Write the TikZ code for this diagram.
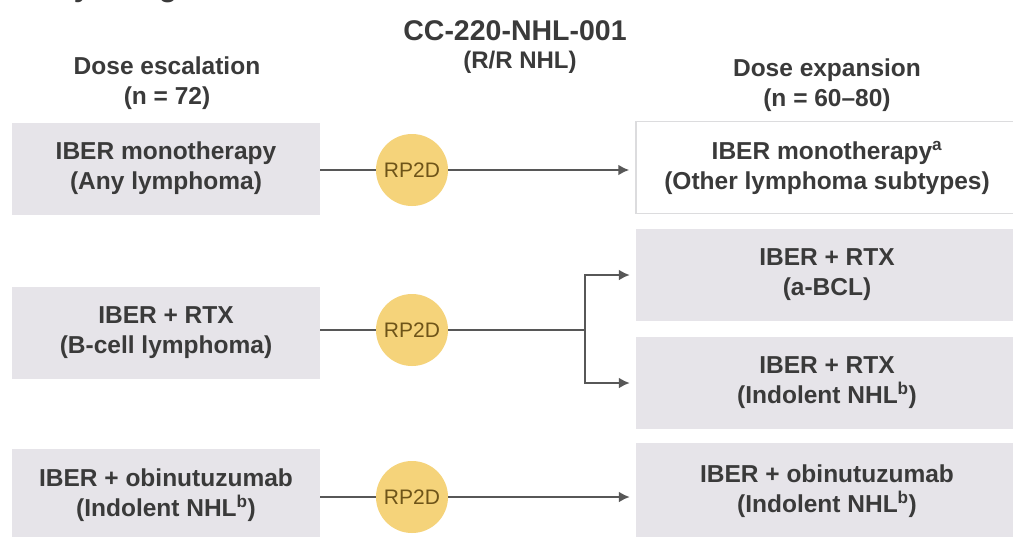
\documentclass[tikz,border=0pt]{standalone}
\usepackage{fontspec}
\setmainfont{Liberation Sans}
\usetikzlibrary{arrows.meta,backgrounds}

\definecolor{boxgray}{HTML}{E6E4E9}
\definecolor{txtgray}{HTML}{3A3A3A}
\definecolor{linegray}{HTML}{575757}
\definecolor{rpfill}{HTML}{F5D37A}
\definecolor{rptext}{HTML}{6E5419}
\definecolor{edgegray}{HTML}{DCDCDE}

\begin{document}
\begin{tikzpicture}[x=1pt,y=-1pt,
  bodyfont/.style={font=\fontsize{24.5}{30}\selectfont\bfseries, text=txtgray},
  armbox/.style={bodyfont, fill=boxgray, inner sep=0pt, align=center,
    minimum width=308pt, minimum height=92pt},
  expbox/.style={bodyfont, fill=boxgray, inner sep=0pt, align=center,
    minimum width=382pt, minimum height=92pt},
  openbox/.style={expbox, fill=white, draw=edgegray, line width=1.5pt},
  header/.style={bodyfont, align=center, inner sep=0pt},
  rpdose/.style={circle, fill=rpfill, minimum size=72pt, inner sep=0pt,
    font=\fontsize{21}{24}\selectfont, text=rptext},
  conn/.style={draw=linegray, line width=2.2pt},
  arr/.style={conn, -{Latex[length=11pt,width=11pt]}, shorten >=6pt}
]
\useasboundingbox (0,0) rectangle (1013,536);

% section heading, running off the top edge
\node[anchor=base west, inner sep=0pt, font=\fontsize{30}{34}\selectfont\bfseries, text=txtgray]
  (heading) at (7,-4) {Study design};

% column headings
\node[header] (hesc) at (167,83) {Dose escalation\\(n = 72)};
\node[inner sep=0pt, font=\fontsize{28.5}{32}\selectfont\bfseries, text=txtgray]
  (title) at (515,31) {CC-220-NHL-001};
\node[header, font=\fontsize{24}{28}\selectfont\bfseries] (subtitle) at (520,62) {(R/R NHL)};
\node[header] (hexp) at (827,85) {Dose expansion\\(n = 60–80)};

% dose escalation arms
\node[armbox] (L1) at (166,168.5) {IBER monotherapy\\(Any lymphoma)};
\node[armbox] (L2) at (166,333) {IBER + RTX\\(B-cell lymphoma)};
\node[armbox] (L3) at (166,495) {IBER + obinutuzumab\\(Indolent NHL\textsuperscript{b})};

% recommended phase 2 dose
\node[rpdose] (C1) at (412,170) {RP2D};
\node[rpdose] (C2) at (412,330) {RP2D};
\node[rpdose] (C3) at (412,497) {RP2D};

% dose expansion arms
\node[openbox] (R1) at (827,167.5) {IBER monotherapy\textsuperscript{a}\\(Other lymphoma subtypes)};
\node[expbox] (R2) at (827,275) {IBER + RTX\\(a-BCL)};
\node[expbox] (R3) at (827,383) {IBER + RTX\\(Indolent NHL\textsuperscript{b})};
\node[expbox, minimum height=96pt] (R4) at (827,491) {IBER + obinutuzumab\\(Indolent NHL\textsuperscript{b})};

% connectors, kept behind the dose circles
\coordinate (fork) at (585,330);
\begin{scope}[on background layer]
\fill[white] (0,0) rectangle (1013,536);
\draw[conn] (L1.east |- C1) -- (C1);
\draw[conn] (L2.east |- C2) -- (C2);
\draw[conn] (L3.east |- C3) -- (C3);
\draw[conn] (C2) -- (fork);
\end{scope}
\draw[arr] (C1.east) -- (R1.west |- C1);
\draw[arr] (fork) |- (R2.west);
\draw[arr] (fork) |- (R3.west);
\draw[arr] (C3.east) -- (R4.west |- C3);
\end{tikzpicture}
\end{document}
